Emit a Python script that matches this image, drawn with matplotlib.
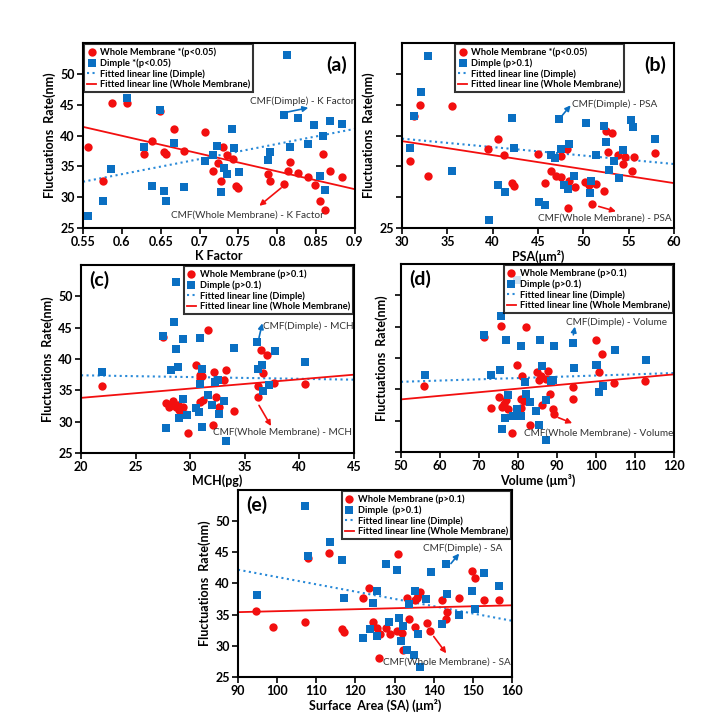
import numpy as np
import matplotlib
matplotlib.use('Agg')
import matplotlib.pyplot as plt

plt.rcParams['font.family'] = ['Lato', 'DejaVu Sans']

RED = '#f20f0f'
BLUE = '#0a6fc2'
LBLUE = '#2a8ad8'

# ---- (a) K Factor ----
a_wm_x = [0.557, 0.576, 0.587, 0.607, 0.629, 0.639, 0.649, 0.654, 0.657, 0.667, 0.680, 0.707,
          0.717, 0.724, 0.728, 0.730, 0.736, 0.743, 0.747, 0.750, 0.788, 0.791, 0.809, 0.814,
          0.817, 0.827, 0.840, 0.848, 0.855, 0.859, 0.862, 0.868, 0.884]
a_wm_y = [38.1, 32.6, 45.2, 45.2, 37.0, 39.1, 43.9, 37.3, 37.0, 41.0, 37.5, 40.6,
          34.3, 35.6, 32.6, 38.1, 36.8, 36.2, 31.8, 31.5, 33.7, 32.6, 32.2, 34.3,
          35.7, 33.9, 33.2, 31.9, 29.3, 37.0, 27.9, 34.3, 33.2]
a_dm_x = [0.557, 0.576, 0.586, 0.607, 0.629, 0.639, 0.649, 0.654, 0.657, 0.667, 0.680, 0.707,
          0.717, 0.723, 0.728, 0.731, 0.736, 0.742, 0.745, 0.751, 0.788, 0.791, 0.813, 0.809,
          0.816, 0.827, 0.840, 0.847, 0.855, 0.859, 0.862, 0.868, 0.883]
a_dm_y = [27.0, 29.3, 34.6, 46.1, 38.1, 31.8, 44.1, 31.0, 29.3, 38.8, 31.6, 35.8,
          36.9, 38.3, 30.8, 34.7, 33.7, 41.1, 38.0, 34.1, 36.1, 37.3, 53.0, 43.3,
          38.1, 42.9, 38.6, 41.7, 33.5, 40.0, 31.1, 42.3, 41.9]
a_fit_dm = (24.5, 19.03)
a_fit_wm = (-28.9, 57.3)

# ---- (b) PSA ----
b_wm_x = [30.9, 31.3, 32.0, 32.9, 35.5, 39.5, 40.6, 41.3, 42.1, 42.3, 45.0, 45.75, 46.45,
          47.0, 47.55, 47.55, 48.2, 48.4, 49.1, 48.3, 50.2, 50.6, 51.35, 51.0, 52.3, 52.5,
          53.2, 52.7, 53.85, 54.4, 54.6, 55.4, 55.6, 57.9]
b_wm_y = [35.8, 43.1, 45.0, 33.5, 44.8, 37.8, 39.4, 36.8, 32.3, 31.75, 37.0, 32.3, 34.3,
          33.4, 33.2, 36.6, 37.8, 32.6, 31.6, 28.3, 32.4, 31.9, 32.1, 28.9, 31.0, 40.7,
          40.4, 37.4, 36.8, 35.4, 36.5, 34.3, 36.5, 37.1]
b_dm_x = [30.9, 31.3, 32.1, 32.9, 35.5, 39.6, 40.6, 41.4, 42.1, 42.3, 45.1, 45.75, 46.4,
          46.9, 47.3, 47.55, 47.9, 48.4, 48.3, 49.0, 50.3, 50.9, 50.7, 51.35, 52.25, 52.5,
          52.8, 53.4, 53.9, 54.4, 55.3, 55.5, 57.9]
b_dm_y = [37.9, 43.2, 47.0, 52.9, 34.2, 26.3, 31.9, 30.85, 42.9, 37.9, 29.25, 28.7, 36.8,
          36.3, 42.7, 37.8, 31.9, 38.7, 31.4, 33.4, 42.1, 32.55, 30.7, 36.9, 41.6, 39.0,
          34.4, 35.8, 33.1, 37.7, 42.55, 41.3, 39.5]
b_fit_dm = (-0.137, 43.6)
b_fit_wm = (-0.227, 45.9)

# ---- (c) MCH ----
c_wm_x = [21.9, 27.5, 27.8, 28.1, 28.4, 28.7, 28.9, 29.0, 29.3, 29.5, 29.8, 30.5, 30.85,
          30.9, 31.1, 30.9, 31.2, 31.6, 32.1, 32.2, 32.4, 32.6, 33.1, 33.3, 34.0, 36.2,
          36.2, 36.5, 36.7, 37.0, 37.7, 40.5]
c_wm_y = [35.7, 43.5, 33.0, 32.3, 33.3, 32.3, 32.7, 31.8, 32.3, 31.3, 28.2, 39.0, 37.5,
          36.9, 37.3, 33.1, 33.4, 44.6, 29.4, 38.0, 34.0, 32.3, 36.6, 38.3, 31.7, 33.9,
          35.7, 41.5, 37.8, 40.6, 36.2, 36.0]
c_dm_x = [21.9, 27.5, 27.8, 28.2, 28.5, 28.7, 28.7, 28.9, 29.0, 29.3, 29.3, 29.7, 30.5,
          30.8, 30.85, 30.9, 31.1, 31.1, 31.6, 32.0, 32.3, 32.5, 32.6, 33.1, 33.3, 34.0,
          36.1, 36.2, 36.6, 36.7, 37.2, 37.8, 40.5]
c_dm_y = [38.0, 43.6, 29.0, 38.3, 45.9, 41.6, 52.3, 38.8, 30.6, 43.2, 33.6, 31.0, 32.2,
          31.6, 43.3, 36.0, 38.4, 29.2, 34.3, 32.7, 36.3, 36.6, 31.3, 33.3, 26.9, 41.8,
          42.7, 38.4, 39.1, 34.9, 35.9, 41.3, 39.5]
c_fit_dm = (-0.028, 37.96)
c_fit_wm = (0.148, 30.84)

# ---- (d) Volume ----
d_wm_x = [56.0, 71.4, 73.0, 75.2, 75.6, 75.9, 76.3, 77.0, 77.5, 78.5, 79.8, 80.9, 81.1,
          80.9, 81.5, 81.95, 83.1, 84.8, 85.4, 85.9, 86.1, 87.1, 87.6, 88.2, 88.9, 89.3,
          94.2, 94.2, 99.9, 100.8, 101.6, 104.7, 112.6]
d_wm_y = [35.6, 43.4, 32.1, 33.8, 45.05, 32.25, 32.6, 33.3, 31.8, 28.0, 38.9, 33.5, 37.2,
          32.0, 33.2, 45.0, 29.3, 37.7, 36.5, 37.05, 32.5, 36.7, 38.0, 34.2, 31.9, 31.0,
          35.4, 33.4, 42.9, 37.8, 40.6, 36.0, 36.4]
d_dm_x = [56.15, 71.4, 73.1, 75.4, 75.6, 76.0, 76.7, 76.8, 77.5, 78.6, 79.7, 79.7, 80.8,
          80.9, 81.8, 82.05, 83.2, 84.5, 85.5, 85.6, 86.1, 87.1, 87.2, 88.5, 88.9, 89.3,
          94.2, 94.4, 99.9, 100.2, 100.8, 101.9, 104.9, 112.7]
d_dm_y = [37.3, 43.6, 37.3, 38.1, 46.65, 28.6, 30.5, 42.9, 34.1, 30.8, 31.8, 52.4, 41.85,
          30.8, 36.1, 34.3, 33.0, 31.6, 29.3, 42.8, 38.8, 33.3, 26.9, 36.25, 36.5, 41.85,
          42.4, 38.4, 38.9, 38.9, 34.5, 35.6, 41.3, 39.7]
d_fit_dm = (0.02, 35.2)
d_fit_wm = (0.0571, 30.54)

# ---- (e) Surface Area ----
e_wm_x = [94.7, 99.0, 107.1, 107.9, 113.3, 116.6, 117.1, 121.9, 123.5, 124.4, 125.6, 125.9,
          126.3, 127.7, 128.9, 130.6, 131.0, 132.0, 132.1, 133.1, 133.7, 135.1, 135.3, 135.7,
          136.1, 136.5, 138.2, 139.1, 142.1, 143.2, 143.5, 146.5, 149.8, 150.6, 152.8, 156.6]
e_wm_y = [35.6, 33.0, 33.9, 44.15, 44.9, 32.7, 32.2, 37.7, 39.3, 33.9, 32.9, 28.1,
          31.9, 32.9, 31.9, 32.4, 44.7, 32.1, 29.3, 37.7, 34.3, 33.0, 37.3, 37.7,
          38.2, 38.7, 33.6, 32.4, 37.4, 34.3, 35.5, 37.7, 42.0, 40.9, 37.3, 37.4]
e_dm_x = [94.9, 107.1, 107.9, 113.5, 116.6, 117.2, 122.0, 123.6, 124.6, 125.4, 125.6, 127.7,
          128.7, 130.6, 131.2, 131.7, 132.1, 133.3, 133.6, 135.0, 135.1, 135.9, 136.5, 138.0,
          139.4, 142.1, 143.1, 143.5, 146.5, 149.9, 150.6, 152.8, 156.8]
e_dm_y = [38.2, 52.4, 44.4, 46.65, 43.7, 37.6, 31.2, 32.7, 36.95, 38.8, 31.5, 43.1,
          33.9, 42.2, 34.4, 30.7, 33.2, 29.3, 36.65, 28.6, 38.8, 31.9, 26.6, 37.5,
          41.9, 33.5, 43.1, 38.3, 34.95, 38.8, 35.85, 41.7, 39.6]
e_fit_dm = (-0.117, 52.74)
e_fit_wm = (0.0157, 33.99)

YLABEL = 'Fluctuations  Rate(nm)'


def draw_panel(ax, wm_x, wm_y, dm_x, dm_y, fit_dm, fit_wm, xlim, xticks, xticklabels,
               xlabel, wm_label, dm_label, letter, letter_pos, leg_kw, notes):
  ax.scatter(wm_x, wm_y, s=36, c=RED, marker='o', linewidths=0, zorder=3, label=wm_label)
  ax.scatter(dm_x, dm_y, s=34, c=BLUE, marker='s', linewidths=0, zorder=3, label=dm_label)
  xs = np.array(xlim)
  ax.plot(xs, fit_dm[0] * xs + fit_dm[1], ':', color=LBLUE, lw=1.5, zorder=2,
          label='Fitted linear line (Dimple)')
  ax.plot(xs, fit_wm[0] * xs + fit_wm[1], '-', color=RED, lw=1.3, zorder=2,
          label='Fitted linear line (Whole Membrane)')
  ax.set_xlim(xlim)
  ax.set_ylim(25, 55)
  ax.set_xticks(xticks)
  ax.set_xticklabels(xticklabels)
  ax.set_yticks([25, 30, 35, 40, 45, 50])
  for s in ax.spines.values():
    s.set_linewidth(1.5)
  ax.tick_params(direction='out', length=4, width=1.2, labelsize=9, pad=2)
  for t in ax.get_xticklabels() + ax.get_yticklabels():
    t.set_fontweight('bold')
  ax.set_xlabel(xlabel, fontsize=9, fontweight='bold', labelpad=1)
  ax.set_ylabel(YLABEL, fontsize=9, fontweight='bold', labelpad=3)
  ax.text(letter_pos[0], letter_pos[1], letter, transform=ax.transAxes, fontsize=14,
          fontweight='bold', ha=letter_pos[2], va='top')
  leg = ax.legend(frameon=True, fancybox=False, handlelength=1.0,
                  handletextpad=0.4, labelspacing=0.15, borderpad=0.3,
                  prop={'weight': 'bold', 'size': 6.7}, **leg_kw)
  leg.get_frame().set_edgecolor('black')
  leg.get_frame().set_linewidth(1.5)
  leg.set_zorder(5)
  # arrow notes: (text, text_xy, ha, arrow_from, arrow_to, colour)
  for text, txy, ha, a0, a1, col in notes:
    ax.text(txy[0], txy[1], text, fontsize=7.2, color='#333333', ha=ha, va='center', zorder=4)
    ax.annotate('', xy=a1, xytext=a0,
                arrowprops=dict(arrowstyle='-|>', color=col, lw=1.2,
                                mutation_scale=8, shrinkA=0, shrinkB=0))


fig = plt.figure(figsize=(7.28, 7.17), dpi=100)

ax_a = fig.add_axes([0.1140, 0.6820, 0.3735, 0.2580])
ax_b = fig.add_axes([0.5522, 0.6820, 0.3736, 0.2580])
ax_c = fig.add_axes([0.1113, 0.3682, 0.3750, 0.2622])
ax_d = fig.add_axes([0.5508, 0.3696, 0.3750, 0.2622])
ax_e = fig.add_axes([0.3269, 0.0558, 0.3764, 0.2608])

draw_panel(ax_a, a_wm_x, a_wm_y, a_dm_x, a_dm_y, a_fit_dm, a_fit_wm,
           (0.55, 0.9), [0.55, 0.6, 0.65, 0.7, 0.75, 0.8, 0.85, 0.9],
           ['0.55', '0.6', '0.65', '0.7', '0.75', '0.8', '0.85', '0.9'],
           'K Factor', 'Whole Membrane *(p<0.05)', 'Dimple *(p<0.05)',
           '(a)', (0.97, 0.93, 'right'),
           dict(loc='upper left', bbox_to_anchor=(0.0, 1.0), borderaxespad=0.15),
           [('CMF(Dimple) - K Factor', (0.899, 45.6), 'right', (0.813, 43.8), (0.840, 44.5), BLUE),
            ('CMF(Whole Membrane) - K Factor', (0.762, 27.1), 'center', (0.805, 31.5), (0.777, 28.6), RED)])

draw_panel(ax_b, b_wm_x, b_wm_y, b_dm_x, b_dm_y, b_fit_dm, b_fit_wm,
           (30, 60), [30, 35, 40, 45, 50, 55, 60],
           ['30', '35', '40', '45', '50', '55', '60'],
           'PSA(\u03bcm\u00b2)', 'Whole Membrane *(p<0.05)', 'Dimple (p>0.1)',
           '(b)', (0.97, 0.93, 'right'),
           dict(loc='upper left', bbox_to_anchor=(0.19, 1.0), borderaxespad=0.15),
           [('CMF(Dimple) - PSA', (48.8, 45.1), 'left', (47.7, 43.3), (48.6, 44.9), BLUE),
            ('CMF(Whole Membrane) - PSA', (59.7, 26.6), 'right', (51.7, 28.5), (53.6, 27.7), RED)])
ax_b.set_yticklabels(['25', '', '', '', '', ''])

draw_panel(ax_c, c_wm_x, c_wm_y, c_dm_x, c_dm_y, c_fit_dm, c_fit_wm,
           (20, 45), [20, 25, 30, 35, 40, 45],
           ['20', '25', '30', '35', '40', '45'],
           'MCH(pg)', 'Whole Membrane (p>0.1)', 'Dimple (p>0.1)',
           '(c)', (0.03, 0.97, 'left'),
           dict(loc='upper right', bbox_to_anchor=(1.0, 1.0), borderaxespad=0.15),
           [('CMF(Dimple) - MCH', (36.7, 45.3), 'left', (36.3, 43.4), (36.6, 45.7), BLUE),
            ('CMF(Whole Membrane) - MCH', (44.8, 28.4), 'right', (36.3, 32.6), (37.4, 29.3), RED)])

draw_panel(ax_d, d_wm_x, d_wm_y, d_dm_x, d_dm_y, d_fit_dm, d_fit_wm,
           (50, 120), [50, 60, 70, 80, 90, 100, 110, 120],
           ['50', '60', '70', '80', '90', '100', '110', '120'],
           'Volume (\u03bcm\u00b3)', 'Whole Membrane (p>0.1)', 'Dimple (p>0.1)',
           '(d)', (0.03, 0.97, 'left'),
           dict(loc='upper right', bbox_to_anchor=(1.0, 1.0), borderaxespad=0.15),
           [('CMF(Dimple) - Volume', (92.2, 45.7), 'left', (94.2, 43.7), (94.6, 45.0), BLUE),
            ('CMF(Whole Membrane) - Volume', (119.8, 28.0), 'right', (90.3, 30.5), (93.9, 29.6), RED)])
ax_d.set_yticklabels(['', '', '', '', '', ''])

draw_panel(ax_e, e_wm_x, e_wm_y, e_dm_x, e_dm_y, e_fit_dm, e_fit_wm,
           (90, 160), [90, 100, 110, 120, 130, 140, 150, 160],
           ['90', '100', '110', '120', '130', '140', '150', '160'],
           'Surface  Area (SA) (\u03bcm\u00b2)', 'Whole Membrane (p>0.1)', 'Dimple  (p>0.1)',
           '(e)', (0.03, 0.97, 'left'),
           dict(loc='upper right', bbox_to_anchor=(1.0, 1.0), borderaxespad=0.15),
           [('CMF(Dimple) - SA', (147.3, 45.6), 'center', (144.4, 43.2), (146.5, 44.8), BLUE),
            ('CMF(Whole Membrane) - SA', (159.8, 27.4), 'right', (140.0, 31.5), (143.2, 28.8), RED)])

plt.savefig('out.png', dpi=100)
plt.close()
